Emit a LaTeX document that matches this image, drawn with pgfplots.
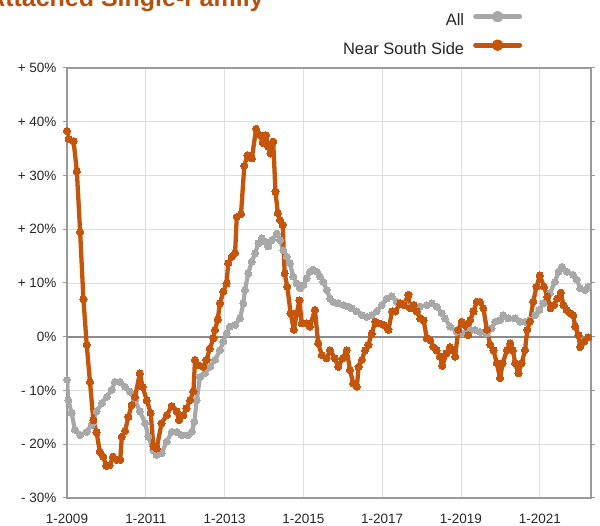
\documentclass[border=0pt]{standalone}
\usepackage{pgfplots}
\pgfplotsset{compat=1.18}
\usepackage{fontspec}
\setmainfont{Liberation Sans}
\definecolor{orng}{RGB}{197,85,10}
\definecolor{gry}{RGB}{168,168,168}
\definecolor{ttl}{RGB}{181,80,14}
\begin{document}
\begin{tikzpicture}
\begin{axis}[
  at={(67pt,28pt)}, anchor=south west,
  scale only axis, width=524pt, height=430pt,
  xmin=0, xmax=159.6, ymin=-30, ymax=50,
  xtick={0,24,48,72,96,120,144},
  xticklabels={1-2009,1-2011,1-2013,1-2015,1-2017,1-2019,1-2021},
  ytick={-30,-20,-10,0,10,20,30,40,50},
  yticklabels={- 30\%,- 20\%,- 10\%,0\%,+ 10\%,+ 20\%,+ 30\%,+ 40\%,+ 50\%},
  grid=major, grid style={draw=black!13, line width=0.9pt},
  axis line style={draw=black!40, line width=1.2pt},
  tick label style={font=\fontsize{13.5}{16}\selectfont, text=black!85},
  x tick style={draw=none},
  y tick style={draw=black!40, line width=1pt},
  tick align=outside, major tick length=4pt,
  yticklabel style={xshift=-3pt},
  xticklabel style={yshift=-9pt},
  extra y ticks={0}, extra y tick labels={},
  extra y tick style={grid style={draw=black!45, line width=1.8pt}},
  legend style={at={(0.869,1.133)}, anchor=north east, draw=none, fill=none,
    font=\fontsize{16.5}{20}\selectfont, text=black!85, row sep=10pt,
    inner sep=0pt, column sep=7pt},
  legend plot pos=right, legend cell align=right,
  legend image code/.code={\draw[line cap=round,#1,line width=5pt] (0pt,4pt) -- (44pt,4pt); \fill[#1] (22pt,4pt) circle (3.6pt);},
  every axis plot/.append style={line join=round, line cap=round},
]
\addplot[gry, line width=4.2pt, mark=*, mark size=3.5pt, mark options={fill=gry, draw=gry, line width=0pt}] coordinates {
(0,-8.0)(0.4,-11.8)(1.4,-14.2)(2.4,-17.3)(4,-18.3)(6,-17.7)(7.5,-16.4)(9,-13.9)(10.6,-12.4)(12.1,-11.2)(13.6,-9.9)(14.6,-8.4)(16.1,-8.4)(17.7,-9.3)(19.2,-10.2)(20.7,-11.8)(22.2,-13.9)(23.8,-16.1)(24.8,-18.6)(26.3,-21.1)(27.3,-22.0)(28.8,-21.7)(30.4,-19.5)(31.9,-17.7)(33.4,-17.7)(34.9,-18.3)(36.9,-18.3)(38,-17.7)(38.8,-15.8)(39.5,-11.8)(40.5,-7.5)(42,-6.8)(43.6,-5.6)(45.1,-4.3)(46.6,-2.5)(47.6,-0.9)(48.6,0.6)(49.6,1.9)(51.2,2.2)(52.7,3.4)(53.7,6.2)(54.2,8.7)(55.2,11.8)(56.3,14.0)(57.3,15.5)(58.3,17.4)(59.3,18.3)(60.3,17.7)(61.3,16.8)(62.4,18.0)(63.9,19.2)(64.9,18.0)(65.9,16.1)(66.9,14.9)(67.9,13.7)(68.9,11.2)(70,9.9)(71,9.0)(72,9.6)(73,10.9)(74,12.1)(75,12.5)(76.1,12.1)(77.1,11.2)(78.1,10.2)(79.1,8.7)(80.1,7.1)(81.1,6.5)(82.6,6.2)(84.2,5.9)(85.7,5.6)(86.7,5.3)(88.2,4.7)(89.8,4.0)(91.3,3.7)(92.8,4.0)(94.3,4.7)(95.9,5.9)(97.4,7.1)(98.9,7.5)(100.4,6.5)(101.4,6.2)(103,5.9)(104.5,5.6)(106,5.3)(107.5,5.6)(109.6,5.9)(111.1,6.2)(112.6,5.6)(114.1,4.4)(115.1,3.4)(116.7,1.9)(118.7,0.9)(120.7,0.6)(122.8,1.2)(124.3,1.3)(125.8,0.9)(127.8,0.6)(129.4,1.6)(130.4,2.8)(131.9,3.1)(132.9,4.0)(134.4,3.4)(136.5,3.4)(138,2.8)(139.5,2.8)(141,3.1)(142.6,4.0)(143.9,5.0)(145.1,6.2)(147.1,8.1)(148.6,10.2)(149.7,12.1)(150.7,13.0)(152.2,12.1)(154.2,11.5)(155.3,10.6)(156.3,9.0)(157.8,8.7)(158.8,9.3)
};
\addlegendentry{All}
\addplot[orng, line width=4.3pt, mark=*, mark size=3.6pt, mark options={fill=orng, draw=orng, line width=0pt}] coordinates {
(0,38.3)(0.5,36.8)(2,36.4)(3,30.8)(4,19.5)(5,7.0)(6,-1.5)(7,-8.4)(8,-15.5)(9,-17.8)(10,-21.4)(11,-22.3)(12,-24.0)(13,-23.9)(14,-22.3)(15.2,-22.9)(16.2,-22.9)(16.7,-18.6)(17.7,-17.5)(18.7,-14.9)(19.7,-12.7)(20.7,-11.2)(22.2,-6.8)(23,-9.3)(24.3,-11.8)(25.5,-14.2)(26.3,-20.4)(27.3,-20.8)(28.8,-16.1)(30.4,-14.6)(31.9,-12.9)(33.4,-13.9)(34.1,-15.5)(35.4,-14.6)(36.4,-13.3)(37.5,-11.8)(38.5,-10.2)(39,-4.3)(40,-5.3)(41.5,-5.6)(42.5,-4.3)(43.5,-2.2)(44.6,-0.3)(45.1,1.3)(45.9,3.2)(46.6,6.2)(47.6,8.4)(48.6,9.9)(49.1,13.7)(50.2,14.9)(51.2,15.6)(51.7,22.3)(53,22.8)(54,31.8)(55,33.8)(56.3,33.2)(57.6,38.7)(58.8,37.5)(59.6,36.1)(60.6,37.5)(61.3,35.4)(62,34.1)(62.8,36.3)(63.5,27.0)(64.2,23.0)(64.9,21.7)(65.7,20.8)(66.3,11.8)(67.1,9.3)(68.1,4.4)(69.1,1.3)(70,4.4)(70.8,6.8)(71.5,2.5)(73,2.5)(74,1.9)(75.5,5.0)(76.5,-1.2)(77.6,-3.4)(79.1,-4.0)(80.1,-2.5)(81.6,-4.0)(82.6,-5.6)(84,-4.0)(85.2,-2.5)(86.2,-6.2)(87.2,-8.7)(88.3,-9.3)(88.8,-5.6)(89.8,-4.3)(90.8,-2.5)(91.8,-1.5)(92.8,0.6)(93.9,2.8)(94.9,2.5)(96.4,2.2)(97.9,1.3)(99,4.7)(100,4.7)(101.5,6.2)(102.5,5.9)(104,7.8)(104.5,5.3)(105.6,5.9)(106.5,4.7)(107.6,3.4)(108.6,3.1)(109.6,-0.3)(110.6,-0.6)(111.6,-1.9)(112.6,-2.5)(113.6,-3.7)(114.3,-5.4)(115.6,-3.1)(116.6,-1.9)(117.6,-2.5)(118.2,-3.7)(119.2,1.3)(120.2,2.8)(121.2,2.2)(122.2,0.3)(122.8,3.1)(123.8,4.7)(124.8,6.5)(125.8,6.5)(126.8,5.3)(127.9,1.3)(128.9,-1.5)(129.9,-2.5)(130.9,-4.9)(131.9,-7.7)(132.7,-4.9)(134,-2.5)(135,-1.2)(135.8,-2.5)(136.5,-4.9)(137.5,-6.8)(138.5,-4.9)(139.5,-2.5)(140.2,1.3)(141,2.8)(142,6.5)(143,9.3)(144,11.4)(145.3,9.3)(146.3,7.5)(147.3,5.3)(148.3,5.9)(149.3,7.1)(150.4,8.2)(151.2,5.9)(152.2,5.0)(153.2,4.4)(154.2,4.0)(154.8,1.9)(155.8,0.3)(156.3,-1.9)(157.5,-0.9)(158.8,-0.1)
};
\addlegendentry{Near South Side}
\end{axis}
\node[anchor=base west, font=\fontsize{25}{30}\selectfont\bfseries, text=ttl, inner sep=0pt] at (-13pt,519pt) {Attached Single-Family};
\pgfresetboundingbox
\useasboundingbox (0,0) rectangle (600pt,526pt);
\end{tikzpicture}
\end{document}
